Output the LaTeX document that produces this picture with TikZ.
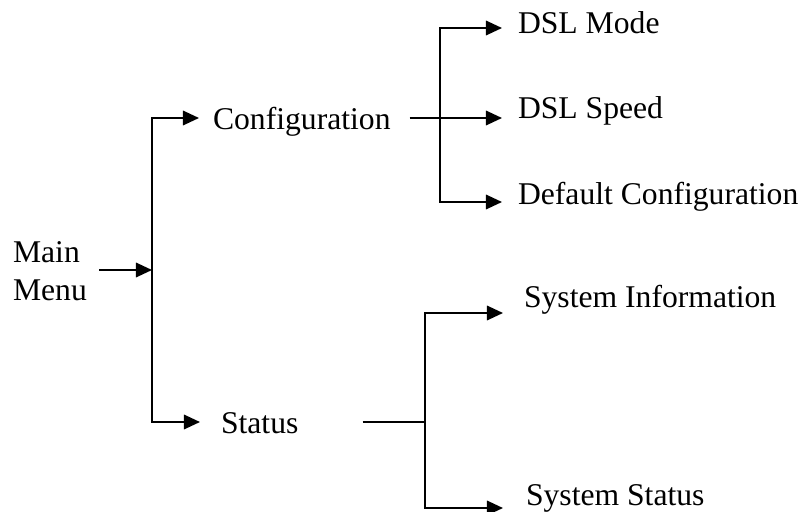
\documentclass[tikz,border=0pt]{standalone}
\usepackage{fontspec}
\setmainfont{Liberation Serif}
\usetikzlibrary{arrows.meta}

\begin{document}
\begin{tikzpicture}[x=0.025cm, y=-0.025cm, line width=1.5pt,
    every node/.style={font=\fontsize{22.5}{27}\selectfont, inner sep=0pt, anchor=base west},
    arr/.style={-{Triangle[length=0.4cm, width=0.36cm]}}]
        \useasboundingbox (0,0) rectangle (804,512);

        \node[anchor=west, align=left] (main) at (12,271) {Main\\Menu};
        \node (config) at (212,130) {Configuration};
        \node (status) at (220,433) {Status};
        \node (mode) at (517,34) {DSL Mode};
        \node (speed) at (517,119) {DSL Speed};
        \node (default) at (517,204) {Default Configuration};
        \node (info) at (523,307) {System Information};
        \node (sysstat) at (525,505) {System Status};

        \coordinate (hub) at (152,270);
        \coordinate (cfg in) at (199,118);
        \coordinate (sts in) at (200,422);
        \coordinate (cfg hub) at (440,118);
        \coordinate (mode in) at (502,28);
        \coordinate (speed in) at (502,118);
        \coordinate (default in) at (502,202);
        \coordinate (sts hub) at (425,422);
        \coordinate (info in) at (503,313);
        \coordinate (sys in) at (503,508);

        \draw[arr, shorten <=0.28cm] (main.east |- hub) -- (hub);
        \draw[arr] (hub) |- (cfg in);
        \draw[arr] (hub) |- (sts in);
        \draw[arr, shorten <=0.45cm] (config.east |- cfg hub) -- (speed in);
        \draw[arr] (cfg hub) |- (mode in);
        \draw[arr] (cfg hub) |- (default in);
        \draw[shorten <=1.58cm] (status.east |- sts hub) -- (sts hub);
        \draw[arr] (sts hub) |- (info in);
        \draw[arr] (sts hub) |- (sys in);

      \end{tikzpicture}
\end{document}
